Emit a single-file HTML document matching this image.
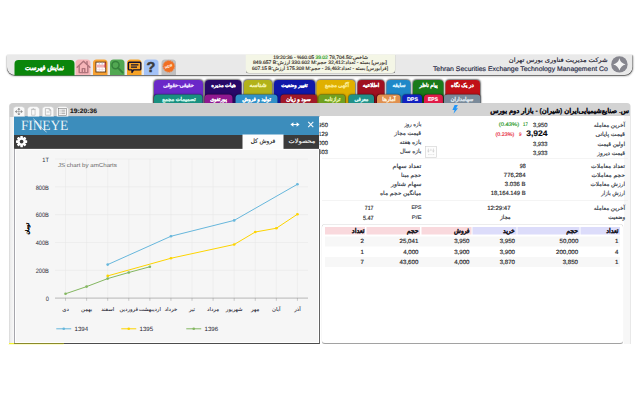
<!DOCTYPE html>
<html lang="fa"><head><meta charset="utf-8"><title>TSETMC</title>
<style>
html,body{margin:0;padding:0;background:#fff;width:640px;height:400px;overflow:hidden}
body{font-family:"Liberation Sans",sans-serif}
#w{position:absolute;left:0;top:0;width:1280px;height:800px;transform:scale(.5);transform-origin:0 0;overflow:hidden;background:#fff}
#w{text-rendering:geometricPrecision;-webkit-font-smoothing:antialiased}
#w div{position:absolute;box-sizing:border-box}
#w svg{position:absolute;overflow:visible}
.t{white-space:nowrap;direction:rtl;-webkit-text-stroke:.3px currentColor}
.t [dir=ltr]{unicode-bidi:isolate}
.t span{display:inline-block}
.tab{border-radius:8px 8px 0 0;box-shadow:0 0 3px 1px rgba(0,0,0,.55)}
.tab2{border-radius:7px 7px 0 0;box-shadow:0 0 3px 1px rgba(0,0,0,.5)}
.ic{border-radius:7px 7px 0 0}
</style></head><body><div id="w">
<div style="left:14px;top:110.4px;width:1251px;height:39.6px;background:#e9e9e9;border-radius:0 0 16px 16px;box-shadow:0 1px 1px rgba(0,0,0,.6),0 2px 4px rgba(0,0,0,.45),0 0 2px rgba(0,0,0,.35)"></div>
<div style="left:29.2px;top:120px;width:119.4px;height:31.2px;background:#0b860b;border-radius:8px 8px 0 0"></div>
<div class="t" id="btn" style="left:89px;margin-left:-300px;width:600px;text-align:center;top:135.4px;margin-top:-14.2px;height:28.4px;line-height:28.4px;font-size:14.2px;color:#fff;font-weight:bold;transform:scaleX(0.868);transform-origin:50% 50%;"><span>نمایش فهرست</span></div>
<div class="ic" style="left:151px;top:119px;width:30px;height:31.4px;background:#f7b5b9"></div>
<div class="ic" style="left:186px;top:119px;width:29px;height:31.4px;background:#f7a132"></div>
<div class="ic" style="left:220px;top:119px;width:29px;height:31.4px;background:#52a852"></div>
<div class="ic" style="left:254px;top:119px;width:29px;height:31.4px;background:#f8a325"></div>
<div class="ic" style="left:288px;top:119px;width:29px;height:31.4px;background:#a3c2f7"></div>
<div class="ic" style="left:322.5px;top:119px;width:29.5px;height:31.4px;background:#bfbfbf"></div>
<div style="left:490.5px;top:109px;width:300.7px;height:37.5px;background:#f4f6e6;border:1px solid #7d7d7d;border-top:0;border-radius:0 0 7px 7px"></div>
<svg style="left:1222px;top:112px" width="34px" height="34px" viewBox="0 0 17 17"><circle cx="8.4" cy="8.4" r="8.2" fill="#86868e"/><path d="M8.4 2.2 Q9.6 7.2 14.6 8.4 Q9.6 9.6 8.4 14.6 Q7.2 9.6 2.2 8.4 Q7.2 7.2 8.4 2.2Z" fill="#f4f4f4"/></svg>
<div class="tab" style="left:308px;top:159.5px;width:98.2px;height:46.5px;background:#6a28c8"></div>
<div class="tab" style="left:410px;top:159.5px;width:72.5px;height:46.5px;background:#280868"></div>
<div class="tab" style="left:487.5px;top:159.5px;width:56.5px;height:46.5px;background:#b2b21a"></div>
<div class="tab" style="left:548px;top:159.5px;width:82px;height:46.5px;background:#1018a8"></div>
<div class="tab" style="left:633px;top:159.5px;width:77.4px;height:46.5px;background:#e0b000"></div>
<div class="tab" style="left:714.5px;top:159.5px;width:54.5px;height:46.5px;background:#a01020"></div>
<div class="tab" style="left:773px;top:159.5px;width:48px;height:46.5px;background:#2088c8"></div>
<div class="tab" style="left:825.5px;top:159.5px;width:61.5px;height:46.5px;background:#1a7a1a"></div>
<div class="tab" style="left:890.5px;top:159.5px;width:69.5px;height:46.5px;background:#c01018"></div>
<div class="tab2" style="left:308px;top:189.2px;width:97px;height:17.2px;background:#189080"></div>
<div class="tab2" style="left:408.8px;top:189.2px;width:56.2px;height:17.2px;background:#901890"></div>
<div class="tab2" style="left:471px;top:189.2px;width:84px;height:17.2px;background:#3090c8"></div>
<div class="tab2" style="left:561px;top:189.2px;width:73px;height:17.2px;background:#a01828"></div>
<div class="tab2" style="left:637.2px;top:189.2px;width:52.8px;height:17.2px;background:#70a020"></div>
<div class="tab2" style="left:696.5px;top:189.2px;width:51px;height:17.2px;background:#209088"></div>
<div class="tab2" style="left:754px;top:189.2px;width:47px;height:17.2px;background:#e09050"></div>
<div class="tab2" style="left:805px;top:189.2px;width:39px;height:17.2px;background:#1020c0"></div>
<div class="tab2" style="left:847.5px;top:189.2px;width:38px;height:17.2px;background:#e01a48"></div>
<div class="tab2" style="left:888px;top:189.2px;width:73px;height:17.2px;background:#7a8a9a"></div>
<div style="left:640px;top:206.2px;width:621.2px;height:25.8px;background:#d3d3d3;border-radius:0 7px 0 0"></div>
<div style="left:640px;top:232px;width:621.2px;height:456px;background:#fff;border-right:1px solid #d0d0d0"></div>
<div style="left:1248px;top:232px;width:12.4px;height:456px;background:#f7f7f7"></div>
<div style="left:642.5px;top:447.5px;width:604.7px;height:240.5px;background:#fff;border:1px solid #c4c4c4;border-top-color:#d8d8d8;border-bottom:2px solid #a2a2a2;border-radius:7px"></div>
<div style="left:650px;top:454px;width:80px;height:15.2px;background:#f9d9dd"></div>
<div style="left:732.5px;top:454px;width:107.5px;height:15.2px;background:#f9d9dd"></div>
<div style="left:842.5px;top:454px;width:100px;height:15.2px;background:#f9d9dd"></div>
<div style="left:945px;top:454px;width:87.5px;height:15.2px;background:#dcdcfa"></div>
<div style="left:1035px;top:454px;width:123.5px;height:15.2px;background:#dcdcfa"></div>
<div style="left:1161px;top:454px;width:79px;height:15.2px;background:#dcdcfa"></div>
<div style="left:650px;top:472.8px;width:590px;height:20.2px;background:#f7f7f7"></div>
<div style="left:650px;top:514.2px;width:590px;height:20.2px;background:#f7f7f7"></div>
<div style="left:644px;top:316px;width:612px;height:1px;background:#e9e9e9"></div>
<div style="left:644px;top:400px;width:612px;height:1px;background:#e9e9e9"></div>
<div class="t" id="h_fa" style="right:65px;top:120.6px;margin-top:-12.5px;height:25px;line-height:25px;font-size:12.5px;color:#1c2030;transform:scaleX(1.072);transform-origin:100% 50%;"><span>شرکت مدیریت فناوری بورس تهران</span></div>
<div class="t" id="h_en" style="right:64px;top:137.2px;margin-top:-13.4px;height:26.8px;line-height:26.8px;font-size:13.4px;color:#1c2440;transform:scaleX(1.027);transform-origin:100% 50%;direction:ltr;"><span>Tehran Securities Exchange Technology Management Co</span></div>
<div class="t" id="ix1" style="left:641px;margin-left:-300px;width:600px;text-align:center;top:115.8px;margin-top:-10px;height:20px;line-height:20px;font-size:10px;color:#342c26;"><span>شاخص:<span dir="ltr">78,704.50</span> <b style="font-weight:normal;color:#1a9a1a"><span dir="ltr">39.02</span></b> <span dir="ltr">19:20:36 - %60.05</span></span></div>
<div class="t" id="ix2" style="left:640px;margin-left:-300px;width:600px;text-align:center;top:126.4px;margin-top:-10px;height:20px;line-height:20px;font-size:10px;color:#342c26;transform:scaleX(1.016);transform-origin:50% 50%;"><span>[بورس] بسته - تعداد:32,412 حجم:<span dir="ltr">330.602 M</span> ارزش:<span dir="ltr">849.657 B</span></span></div>
<div class="t" id="ix3" style="left:640px;margin-left:-300px;width:600px;text-align:center;top:137.2px;margin-top:-10px;height:20px;line-height:20px;font-size:10px;color:#342c26;transform:scaleX(0.981);transform-origin:50% 50%;"><span>[فرابورس] بسته - تعداد:26,463 - حجم:<span dir="ltr">175.308 M</span> ارزش:<span dir="ltr">607.15 B</span></span></div>
<div class="t" id="r1_0" style="left:357.4px;margin-left:-300px;width:600px;text-align:center;top:171px;margin-top:-11px;height:22px;line-height:22px;font-size:11px;color:#eadfff;font-weight:bold;transform:scaleX(0.918);transform-origin:50% 50%;"><span>حقیقی-حقوقی</span></div>
<div class="t" id="r1_1" style="left:446.75px;margin-left:-300px;width:600px;text-align:center;top:171px;margin-top:-11px;height:22px;line-height:22px;font-size:11px;color:#fff;font-weight:bold;transform:scaleX(0.926);transform-origin:50% 50%;"><span>هیات مدیره</span></div>
<div class="t" id="r1_2" style="left:516px;margin-left:-300px;width:600px;text-align:center;top:171px;margin-top:-11px;height:22px;line-height:22px;font-size:11px;color:#f4f4b4;font-weight:bold;transform:scaleX(1.083);transform-origin:50% 50%;"><span>شناسه</span></div>
<div class="t" id="r1_3" style="left:588.75px;margin-left:-300px;width:600px;text-align:center;top:171px;margin-top:-11px;height:22px;line-height:22px;font-size:11px;color:#fff;font-weight:bold;transform:scaleX(0.905);transform-origin:50% 50%;"><span>تغییر وضعیت</span></div>
<div class="t" id="r1_4" style="left:673.75px;margin-left:-300px;width:600px;text-align:center;top:171px;margin-top:-11px;height:22px;line-height:22px;font-size:11px;color:#fbea90;font-weight:bold;transform:scaleX(0.939);transform-origin:50% 50%;"><span>آگهی مجمع</span></div>
<div class="t" id="r1_5" style="left:741.5px;margin-left:-300px;width:600px;text-align:center;top:171px;margin-top:-11px;height:22px;line-height:22px;font-size:11px;color:#fff;font-weight:bold;transform:scaleX(0.972);transform-origin:50% 50%;"><span>اطلاعیه</span></div>
<div class="t" id="r1_6" style="left:797.75px;margin-left:-300px;width:600px;text-align:center;top:171px;margin-top:-11px;height:22px;line-height:22px;font-size:11px;color:#dcf2ff;font-weight:bold;transform:scaleX(0.965);transform-origin:50% 50%;"><span>سابقه</span></div>
<div class="t" id="r1_7" style="left:856.9px;margin-left:-300px;width:600px;text-align:center;top:171px;margin-top:-11px;height:22px;line-height:22px;font-size:11px;color:#fff;font-weight:bold;transform:scaleX(0.888);transform-origin:50% 50%;"><span>پیام ناظر</span></div>
<div class="t" id="r1_8" style="left:925px;margin-left:-300px;width:600px;text-align:center;top:171px;margin-top:-11px;height:22px;line-height:22px;font-size:11px;color:#fff;font-weight:bold;transform:scaleX(0.959);transform-origin:50% 50%;"><span>در یک نگاه</span></div>
<div class="t" id="r2_0" style="left:357.5px;margin-left:-300px;width:600px;text-align:center;top:199.8px;margin-top:-10.6px;height:21.2px;line-height:21.2px;font-size:10.6px;color:#c8f4e8;font-weight:bold;transform:scaleX(0.979);transform-origin:50% 50%;"><span>تصمیمات مجمع</span></div>
<div class="t" id="r2_1" style="left:436.75px;margin-left:-300px;width:600px;text-align:center;top:199.8px;margin-top:-10.6px;height:21.2px;line-height:21.2px;font-size:10.6px;color:#fff;font-weight:bold;transform:scaleX(0.929);transform-origin:50% 50%;"><span>پورتفوی</span></div>
<div class="t" id="r2_2" style="left:513.25px;margin-left:-300px;width:600px;text-align:center;top:199.8px;margin-top:-10.6px;height:21.2px;line-height:21.2px;font-size:10.6px;color:#fff;font-weight:bold;transform:scaleX(0.948);transform-origin:50% 50%;"><span>تولید و فروش</span></div>
<div class="t" id="r2_3" style="left:597.25px;margin-left:-300px;width:600px;text-align:center;top:199.8px;margin-top:-10.6px;height:21.2px;line-height:21.2px;font-size:10.6px;color:#fff;font-weight:bold;transform:scaleX(0.990);transform-origin:50% 50%;"><span>سود و زیان</span></div>
<div class="t" id="r2_4" style="left:665px;margin-left:-300px;width:600px;text-align:center;top:199.8px;margin-top:-10.6px;height:21.2px;line-height:21.2px;font-size:10.6px;color:#e4f2a8;font-weight:bold;transform:scaleX(0.921);transform-origin:50% 50%;"><span>ترازنامه</span></div>
<div class="t" id="r2_5" style="left:723.25px;margin-left:-300px;width:600px;text-align:center;top:199.8px;margin-top:-10.6px;height:21.2px;line-height:21.2px;font-size:10.6px;color:#d0f4f0;font-weight:bold;transform:scaleX(0.910);transform-origin:50% 50%;"><span>معرفی</span></div>
<div class="t" id="r2_6" style="left:777.75px;margin-left:-300px;width:600px;text-align:center;top:199.8px;margin-top:-10.6px;height:21.2px;line-height:21.2px;font-size:10.6px;color:#fff0dc;font-weight:bold;transform:scaleX(1.029);transform-origin:50% 50%;"><span>آمارها</span></div>
<div class="t" id="r2_7" style="left:825px;margin-left:-300px;width:600px;text-align:center;top:199.8px;margin-top:-10.6px;height:21.2px;line-height:21.2px;font-size:10.6px;color:#fff;font-weight:bold;"><span>DPS</span></div>
<div class="t" id="r2_8" style="left:866px;margin-left:-300px;width:600px;text-align:center;top:199.8px;margin-top:-10.6px;height:21.2px;line-height:21.2px;font-size:10.6px;color:#fff;font-weight:bold;transform:scaleX(0.943);transform-origin:50% 50%;"><span>EPS</span></div>
<div class="t" id="r2_9" style="left:924.35px;margin-left:-300px;width:600px;text-align:center;top:199.8px;margin-top:-10.6px;height:21.2px;line-height:21.2px;font-size:10.6px;color:#dce4ec;font-weight:bold;transform:scaleX(0.951);transform-origin:50% 50%;"><span>سهامداران</span></div>
<div class="t" id="title" style="right:22px;top:221.2px;margin-top:-13.5px;height:27px;line-height:27px;font-size:13.5px;color:#0c0c14;font-weight:bold;"><span>س. صنایع‌شیمیایی‌ایران (شیران) - بازار دوم بورس</span></div>
<svg style="left:904.4px;top:209.6px" width="12.4px" height="17.6px" viewBox="0 0 6.2 8.8"><path d="M2.6 0H5.9L4.1 3.3H6L1.5 8.8L2.6 4.9H0.4Z" fill="#2196f8"/></svg>
<div class="t" id="rl0" style="right:30px;top:250.8px;margin-top:-11.4px;height:22.8px;line-height:22.8px;font-size:11.4px;color:#2e3440;"><span>آخرین معامله</span></div>
<div class="t" id="rl1" style="right:30px;top:269.8px;margin-top:-11.4px;height:22.8px;line-height:22.8px;font-size:11.4px;color:#2e3440;transform:scaleX(1.058);transform-origin:100% 50%;"><span>قیمت پایانی</span></div>
<div class="t" id="rl2" style="right:30px;top:288.4px;margin-top:-11.4px;height:22.8px;line-height:22.8px;font-size:11.4px;color:#2e3440;transform:scaleX(1.017);transform-origin:100% 50%;"><span>اولین قیمت</span></div>
<div class="t" id="rl3" style="right:30px;top:306.6px;margin-top:-11.4px;height:22.8px;line-height:22.8px;font-size:11.4px;color:#2e3440;"><span>قیمت دیروز</span></div>
<div class="t" id="rl4" style="right:30px;top:332.2px;margin-top:-11.4px;height:22.8px;line-height:22.8px;font-size:11.4px;color:#2e3440;transform:scaleX(1.043);transform-origin:100% 50%;"><span>تعداد معاملات</span></div>
<div class="t" id="rl5" style="right:30px;top:350.2px;margin-top:-11.4px;height:22.8px;line-height:22.8px;font-size:11.4px;color:#2e3440;transform:scaleX(1.050);transform-origin:100% 50%;"><span>حجم معاملات</span></div>
<div class="t" id="rl6" style="right:30px;top:368.2px;margin-top:-11.4px;height:22.8px;line-height:22.8px;font-size:11.4px;color:#2e3440;transform:scaleX(0.987);transform-origin:100% 50%;"><span>ارزش معاملات</span></div>
<div class="t" id="rl7" style="right:30px;top:386.4px;margin-top:-11.4px;height:22.8px;line-height:22.8px;font-size:11.4px;color:#2e3440;transform:scaleX(0.913);transform-origin:100% 50%;"><span>ارزش بازار</span></div>
<div class="t" id="rl8" style="right:30px;top:416px;margin-top:-11.4px;height:22.8px;line-height:22.8px;font-size:11.4px;color:#2e3440;"><span>آخرین معامله</span></div>
<div class="t" id="rl9" style="right:30px;top:434.8px;margin-top:-11.4px;height:22.8px;line-height:22.8px;font-size:11.4px;color:#2e3440;transform:scaleX(0.963);transform-origin:100% 50%;"><span>وضعیت</span></div>
<div class="t" id="ll0" style="right:437.5px;top:249.8px;margin-top:-11.4px;height:22.8px;line-height:22.8px;font-size:11.4px;color:#2e3440;transform:scaleX(0.900);transform-origin:100% 50%;"><span>بازه روز</span></div>
<div class="t" id="ll1" style="right:437.5px;top:267.8px;margin-top:-11.4px;height:22.8px;line-height:22.8px;font-size:11.4px;color:#2e3440;transform:scaleX(1.024);transform-origin:100% 50%;"><span>قیمت مجاز</span></div>
<div class="t" id="ll2" style="right:437.5px;top:285.8px;margin-top:-11.4px;height:22.8px;line-height:22.8px;font-size:11.4px;color:#2e3440;transform:scaleX(1.021);transform-origin:100% 50%;"><span>بازه هفته</span></div>
<div class="t" id="ll3" style="right:437.5px;top:303.8px;margin-top:-11.4px;height:22.8px;line-height:22.8px;font-size:11.4px;color:#2e3440;"><span>بازه سال</span></div>
<div class="t" id="ll4" style="right:437.5px;top:332.2px;margin-top:-11.4px;height:22.8px;line-height:22.8px;font-size:11.4px;color:#2e3440;transform:scaleX(1.119);transform-origin:100% 50%;"><span>تعداد سهام</span></div>
<div class="t" id="ll5" style="right:437.5px;top:350.2px;margin-top:-11.4px;height:22.8px;line-height:22.8px;font-size:11.4px;color:#2e3440;transform:scaleX(0.974);transform-origin:100% 50%;"><span>حجم مبنا</span></div>
<div class="t" id="ll6" style="right:437.5px;top:368.2px;margin-top:-11.4px;height:22.8px;line-height:22.8px;font-size:11.4px;color:#2e3440;transform:scaleX(1.091);transform-origin:100% 50%;"><span>سهام شناور</span></div>
<div class="t" id="ll7" style="right:437.5px;top:386.4px;margin-top:-11.4px;height:22.8px;line-height:22.8px;font-size:11.4px;color:#2e3440;transform:scaleX(1.052);transform-origin:100% 50%;"><span>میانگین حجم ماه</span></div>
<div class="t" id="ll8" style="right:437.5px;top:416.2px;margin-top:-10.4px;height:20.8px;line-height:20.8px;font-size:10.4px;color:#2e3440;transform:scaleX(0.962);transform-origin:100% 50%;direction:ltr;"><span>EPS</span></div>
<div class="t" id="ll9" style="right:437.5px;top:436.4px;margin-top:-10.4px;height:20.8px;line-height:20.8px;font-size:10.4px;color:#2e3440;transform:scaleX(1.152);transform-origin:100% 50%;direction:ltr;"><span>P/E</span></div>
<div class="t" id="v0" style="right:185px;top:250px;margin-top:-12px;height:24px;line-height:24px;font-size:12px;color:#1e1e26;transform:scaleX(0.966);transform-origin:100% 50%;direction:ltr;"><span>3,950</span></div>
<div class="t" id="v0b" style="right:224px;top:250px;margin-top:-10.4px;height:20.8px;line-height:20.8px;font-size:10.4px;color:#2a9a2a;transform:scaleX(0.822);transform-origin:100% 50%;direction:ltr;"><span>17</span></div>
<div class="t" id="v0c" style="right:241.5px;top:250px;margin-top:-10.4px;height:20.8px;line-height:20.8px;font-size:10.4px;color:#2a9a2a;transform:scaleX(1.127);transform-origin:100% 50%;direction:ltr;"><span>(0.43%)</span></div>
<div class="t" id="v1" style="right:185px;top:267px;margin-top:-16px;height:32px;line-height:32px;font-size:16px;color:#0a0a10;font-weight:bold;transform:scaleX(1.061);transform-origin:100% 50%;direction:ltr;"><span>3,924</span></div>
<div class="t" id="v1b" style="right:237.5px;top:269px;margin-top:-10.4px;height:20.8px;line-height:20.8px;font-size:10.4px;color:#e8283c;transform:scaleX(0.865);transform-origin:100% 50%;direction:ltr;"><span>9</span></div>
<div class="t" id="v1c" style="right:251.5px;top:269px;margin-top:-10.4px;height:20.8px;line-height:20.8px;font-size:10.4px;color:#e8283c;transform:scaleX(1.030);transform-origin:100% 50%;direction:ltr;"><span>(0.23%)</span></div>
<div class="t" id="v2" style="right:185px;top:287.6px;margin-top:-12px;height:24px;line-height:24px;font-size:12px;color:#1e1e26;transform:scaleX(0.966);transform-origin:100% 50%;direction:ltr;"><span>3,933</span></div>
<div class="t" id="v3" style="right:185px;top:305.8px;margin-top:-12px;height:24px;line-height:24px;font-size:12px;color:#1e1e26;transform:scaleX(0.966);transform-origin:100% 50%;direction:ltr;"><span>3,933</span></div>
<div class="t" id="v4" style="right:229px;top:331.4px;margin-top:-12px;height:24px;line-height:24px;font-size:12px;color:#1e1e26;transform:scaleX(0.898);transform-origin:100% 50%;direction:ltr;"><span>98</span></div>
<div class="t" id="v5" style="right:229px;top:349.4px;margin-top:-12px;height:24px;line-height:24px;font-size:12px;color:#1e1e26;direction:ltr;"><span>776,284</span></div>
<div class="t" id="v6" style="right:229px;top:367.4px;margin-top:-12px;height:24px;line-height:24px;font-size:12px;color:#1e1e26;direction:ltr;"><span>3.036 B</span></div>
<div class="t" id="v7" style="right:229px;top:385.6px;margin-top:-12px;height:24px;line-height:24px;font-size:12px;color:#1e1e26;transform:scaleX(0.980);transform-origin:100% 50%;direction:ltr;"><span>18,164.149 B</span></div>
<div class="t" id="v8" style="right:259px;top:415.2px;margin-top:-12px;height:24px;line-height:24px;font-size:12px;color:#1e1e26;direction:ltr;"><span>12:29:47</span></div>
<div class="t" id="v9" style="right:259px;top:434.8px;margin-top:-11.4px;height:22.8px;line-height:22.8px;font-size:11.4px;color:#1e1e26;transform:scaleX(0.936);transform-origin:100% 50%;"><span>مجاز</span></div>
<div class="t" id="e0" style="right:532.5px;top:416.2px;margin-top:-12px;height:24px;line-height:24px;font-size:12px;color:#1e1e26;transform:scaleX(0.874);transform-origin:100% 50%;direction:ltr;"><span>717</span></div>
<div class="t" id="e1" style="right:532.5px;top:436.4px;margin-top:-12px;height:24px;line-height:24px;font-size:12px;color:#1e1e26;transform:scaleX(0.920);transform-origin:100% 50%;direction:ltr;"><span>5.47</span></div>
<div class="t" id="lv0" style="right:624px;top:249px;margin-top:-12px;height:24px;line-height:24px;font-size:12px;color:#1e1e26;transform:scaleX(0.966);transform-origin:100% 50%;direction:ltr;"><span>3,950</span></div>
<div class="t" id="lv1" style="right:624px;top:267px;margin-top:-12px;height:24px;line-height:24px;font-size:12px;color:#1e1e26;transform:scaleX(0.966);transform-origin:100% 50%;direction:ltr;"><span>4,129</span></div>
<div class="t" id="lv2" style="right:624px;top:285px;margin-top:-12px;height:24px;line-height:24px;font-size:12px;color:#1e1e26;transform:scaleX(0.966);transform-origin:100% 50%;direction:ltr;"><span>4,000</span></div>
<div class="t" id="lv3" style="right:624px;top:303px;margin-top:-12px;height:24px;line-height:24px;font-size:12px;color:#1e1e26;transform:scaleX(0.966);transform-origin:100% 50%;direction:ltr;"><span>5,503</span></div>
<div class="t" id="oh0" style="right:551px;top:461.6px;margin-top:-13.5px;height:27px;line-height:27px;font-size:13.5px;color:#16161e;font-weight:bold;transform:scaleX(0.936);transform-origin:100% 50%;"><span>تعداد</span></div>
<div class="t" id="oh1" style="right:443.2px;top:461.6px;margin-top:-13.5px;height:27px;line-height:27px;font-size:13.5px;color:#16161e;font-weight:bold;transform:scaleX(0.912);transform-origin:100% 50%;"><span>حجم</span></div>
<div class="t" id="oh2" style="right:341px;top:461.6px;margin-top:-13.5px;height:27px;line-height:27px;font-size:13.5px;color:#16161e;font-weight:bold;transform:scaleX(0.836);transform-origin:100% 50%;"><span>فروش</span></div>
<div class="t" id="oh3" style="right:250px;top:461.6px;margin-top:-13.5px;height:27px;line-height:27px;font-size:13.5px;color:#16161e;font-weight:bold;transform:scaleX(0.887);transform-origin:100% 50%;"><span>خرید</span></div>
<div class="t" id="oh4" style="right:124px;top:461.6px;margin-top:-13.5px;height:27px;line-height:27px;font-size:13.5px;color:#16161e;font-weight:bold;transform:scaleX(0.912);transform-origin:100% 50%;"><span>حجم</span></div>
<div class="t" id="oh5" style="right:42.5px;top:461.6px;margin-top:-13.5px;height:27px;line-height:27px;font-size:13.5px;color:#16161e;font-weight:bold;transform:scaleX(0.911);transform-origin:100% 50%;"><span>تعداد</span></div>
<div class="t" id="o00" style="right:552.2px;top:482px;margin-top:-12px;height:24px;line-height:24px;font-size:12px;color:#1e1e26;transform:scaleX(1.017);transform-origin:100% 50%;direction:ltr;"><span>2</span></div>
<div class="t" id="o01" style="right:443.2px;top:482px;margin-top:-12px;height:24px;line-height:24px;font-size:12px;color:#1e1e26;transform:scaleX(1.022);transform-origin:100% 50%;direction:ltr;"><span>25,041</span></div>
<div class="t" id="o02" style="right:340.8px;top:482px;margin-top:-12px;height:24px;line-height:24px;font-size:12px;color:#1e1e26;transform:scaleX(1.022);transform-origin:100% 50%;direction:ltr;"><span>3,950</span></div>
<div class="t" id="o03" style="right:249.8px;top:482px;margin-top:-12px;height:24px;line-height:24px;font-size:12px;color:#1e1e26;transform:scaleX(1.022);transform-origin:100% 50%;direction:ltr;"><span>3,950</span></div>
<div class="t" id="o04" style="right:123.8px;top:482px;margin-top:-12px;height:24px;line-height:24px;font-size:12px;color:#1e1e26;transform:scaleX(1.022);transform-origin:100% 50%;direction:ltr;"><span>50,000</span></div>
<div class="t" id="o05" style="right:43.2px;top:482px;margin-top:-12px;height:24px;line-height:24px;font-size:12px;color:#1e1e26;transform:scaleX(1.017);transform-origin:100% 50%;direction:ltr;"><span>1</span></div>
<div class="t" id="o10" style="right:552.2px;top:503px;margin-top:-12px;height:24px;line-height:24px;font-size:12px;color:#1e1e26;transform:scaleX(1.017);transform-origin:100% 50%;direction:ltr;"><span>1</span></div>
<div class="t" id="o11" style="right:443.2px;top:503px;margin-top:-12px;height:24px;line-height:24px;font-size:12px;color:#1e1e26;transform:scaleX(1.022);transform-origin:100% 50%;direction:ltr;"><span>4,000</span></div>
<div class="t" id="o12" style="right:340.8px;top:503px;margin-top:-12px;height:24px;line-height:24px;font-size:12px;color:#1e1e26;transform:scaleX(1.022);transform-origin:100% 50%;direction:ltr;"><span>3,900</span></div>
<div class="t" id="o13" style="right:249.8px;top:503px;margin-top:-12px;height:24px;line-height:24px;font-size:12px;color:#1e1e26;transform:scaleX(1.022);transform-origin:100% 50%;direction:ltr;"><span>3,900</span></div>
<div class="t" id="o14" style="right:123.8px;top:503px;margin-top:-12px;height:24px;line-height:24px;font-size:12px;color:#1e1e26;transform:scaleX(1.021);transform-origin:100% 50%;direction:ltr;"><span>200,000</span></div>
<div class="t" id="o15" style="right:43.2px;top:503px;margin-top:-12px;height:24px;line-height:24px;font-size:12px;color:#1e1e26;transform:scaleX(1.017);transform-origin:100% 50%;direction:ltr;"><span>4</span></div>
<div class="t" id="o20" style="right:552.2px;top:523.6px;margin-top:-12px;height:24px;line-height:24px;font-size:12px;color:#1e1e26;transform:scaleX(1.017);transform-origin:100% 50%;direction:ltr;"><span>7</span></div>
<div class="t" id="o21" style="right:443.2px;top:523.6px;margin-top:-12px;height:24px;line-height:24px;font-size:12px;color:#1e1e26;transform:scaleX(1.022);transform-origin:100% 50%;direction:ltr;"><span>43,600</span></div>
<div class="t" id="o22" style="right:340.8px;top:523.6px;margin-top:-12px;height:24px;line-height:24px;font-size:12px;color:#1e1e26;transform:scaleX(1.022);transform-origin:100% 50%;direction:ltr;"><span>4,000</span></div>
<div class="t" id="o23" style="right:249.8px;top:523.6px;margin-top:-12px;height:24px;line-height:24px;font-size:12px;color:#1e1e26;transform:scaleX(1.022);transform-origin:100% 50%;direction:ltr;"><span>3,870</span></div>
<div class="t" id="o24" style="right:123.8px;top:523.6px;margin-top:-12px;height:24px;line-height:24px;font-size:12px;color:#1e1e26;transform:scaleX(1.022);transform-origin:100% 50%;direction:ltr;"><span>3,850</span></div>
<div class="t" id="o25" style="right:43.2px;top:523.6px;margin-top:-12px;height:24px;line-height:24px;font-size:12px;color:#1e1e26;transform:scaleX(1.017);transform-origin:100% 50%;direction:ltr;"><span>1</span></div>
<!-- floating chart panel -->
<div style="left:18px;top:206.2px;width:620.8px;height:481.8px;background:linear-gradient(to right,#cfcfcf 0,#ececec 2px,#f7f7f7 9px);border-radius:7px 0 0 0"></div>
<div style="left:18.8px;top:206.2px;width:621.6px;height:27.4px;background:#cdcdcd;border-radius:7px 0 0 0"></div>
<div style="left:28px;top:233.4px;width:610.2px;height:36.6px;background:#3c8dbc;border-top:1px solid #2f7fb6"></div>
<div style="left:28px;top:270px;width:610.2px;height:27.2px;background:#3b3b3b;border-bottom:1.4px solid #141414"></div>
<div style="left:484.8px;top:268.8px;width:82.7px;height:29.6px;background:#fdfdfd"></div>
<div style="left:28px;top:297.5px;width:612px;height:390.5px;background:#f6f6f6;border-left:2px solid #a6a6ac;border-right:2px solid #646464;border-bottom:2px solid #4c4c4c;box-shadow:inset 0 0 0 2px #fff"></div>
<svg style="left:0;top:0" width="1280" height="800" viewBox="0 0 640 400" font-family="Liberation Sans, sans-serif"><path d="M55.0 159.00H308" stroke="#e4e4e4" stroke-width=".5" fill="none"/><path d="M55.0 186.82H308" stroke="#e4e4e4" stroke-width=".5" fill="none"/><path d="M55.0 214.64H308" stroke="#e4e4e4" stroke-width=".5" fill="none"/><path d="M55.0 242.46H308" stroke="#e4e4e4" stroke-width=".5" fill="none"/><path d="M55.0 270.28H308" stroke="#e4e4e4" stroke-width=".5" fill="none"/><path d="M65.54 159V298.1" stroke="#e6e6e6" stroke-width=".5" fill="none"/><path d="M65.54 298.1V300.8" stroke="#999" stroke-width=".5" fill="none"/><path d="M86.62 159V298.1" stroke="#e6e6e6" stroke-width=".5" fill="none"/><path d="M86.62 298.1V300.8" stroke="#999" stroke-width=".5" fill="none"/><path d="M107.70 159V298.1" stroke="#e6e6e6" stroke-width=".5" fill="none"/><path d="M107.70 298.1V300.8" stroke="#999" stroke-width=".5" fill="none"/><path d="M128.78 159V298.1" stroke="#e6e6e6" stroke-width=".5" fill="none"/><path d="M128.78 298.1V300.8" stroke="#999" stroke-width=".5" fill="none"/><path d="M149.86 159V298.1" stroke="#e6e6e6" stroke-width=".5" fill="none"/><path d="M149.86 298.1V300.8" stroke="#999" stroke-width=".5" fill="none"/><path d="M170.94 159V298.1" stroke="#e6e6e6" stroke-width=".5" fill="none"/><path d="M170.94 298.1V300.8" stroke="#999" stroke-width=".5" fill="none"/><path d="M192.02 159V298.1" stroke="#e6e6e6" stroke-width=".5" fill="none"/><path d="M192.02 298.1V300.8" stroke="#999" stroke-width=".5" fill="none"/><path d="M213.10 159V298.1" stroke="#e6e6e6" stroke-width=".5" fill="none"/><path d="M213.10 298.1V300.8" stroke="#999" stroke-width=".5" fill="none"/><path d="M234.18 159V298.1" stroke="#e6e6e6" stroke-width=".5" fill="none"/><path d="M234.18 298.1V300.8" stroke="#999" stroke-width=".5" fill="none"/><path d="M255.26 159V298.1" stroke="#e6e6e6" stroke-width=".5" fill="none"/><path d="M255.26 298.1V300.8" stroke="#999" stroke-width=".5" fill="none"/><path d="M276.34 159V298.1" stroke="#e6e6e6" stroke-width=".5" fill="none"/><path d="M276.34 298.1V300.8" stroke="#999" stroke-width=".5" fill="none"/><path d="M297.42 159V298.1" stroke="#e6e6e6" stroke-width=".5" fill="none"/><path d="M297.42 298.1V300.8" stroke="#999" stroke-width=".5" fill="none"/><path d="M55.0 298.1H308" stroke="#8c8c8c" stroke-width=".6" fill="none"/><text transform="translate(48.9,161.75) scale(.9,1)" font-size="6.3" fill="#2c2c38" text-anchor="end">1T</text><text transform="translate(48.9,189.57) scale(.9,1)" font-size="6.3" fill="#2c2c38" text-anchor="end">800B</text><text transform="translate(48.9,217.39) scale(.9,1)" font-size="6.3" fill="#2c2c38" text-anchor="end">600B</text><text transform="translate(48.9,245.21) scale(.9,1)" font-size="6.3" fill="#2c2c38" text-anchor="end">400B</text><text transform="translate(48.9,273.03) scale(.9,1)" font-size="6.3" fill="#2c2c38" text-anchor="end">200B</text><text transform="translate(48.9,300.85) scale(.9,1)" font-size="6.3" fill="#2c2c38" text-anchor="end">0</text><text x="57.9" y="167.4" font-size="5.8" fill="#666" textLength="59" lengthAdjust="spacingAndGlyphs">JS chart by amCharts</text><text x="65.54" y="311.2" font-size="5.35" fill="#1a1a30" stroke="#1a1a30" stroke-width=".06" text-anchor="middle" direction="rtl">دی</text><text x="86.62" y="311.2" font-size="5.35" fill="#1a1a30" stroke="#1a1a30" stroke-width=".06" text-anchor="middle" direction="rtl">بهمن</text><text x="107.70" y="311.2" font-size="5.35" fill="#1a1a30" stroke="#1a1a30" stroke-width=".06" text-anchor="middle" direction="rtl">اسفند</text><text x="128.78" y="311.2" font-size="5.35" fill="#1a1a30" stroke="#1a1a30" stroke-width=".06" text-anchor="middle" direction="rtl">فروردین</text><text x="149.86" y="311.2" font-size="5.35" fill="#1a1a30" stroke="#1a1a30" stroke-width=".06" text-anchor="middle" direction="rtl">اردیبهشت</text><text x="170.94" y="311.2" font-size="5.35" fill="#1a1a30" stroke="#1a1a30" stroke-width=".06" text-anchor="middle" direction="rtl">خرداد</text><text x="192.02" y="311.2" font-size="5.35" fill="#1a1a30" stroke="#1a1a30" stroke-width=".06" text-anchor="middle" direction="rtl">تیر</text><text x="213.10" y="311.2" font-size="5.35" fill="#1a1a30" stroke="#1a1a30" stroke-width=".06" text-anchor="middle" direction="rtl">مرداد</text><text x="234.18" y="311.2" font-size="5.35" fill="#1a1a30" stroke="#1a1a30" stroke-width=".06" text-anchor="middle" direction="rtl">شهریور</text><text x="255.26" y="311.2" font-size="5.35" fill="#1a1a30" stroke="#1a1a30" stroke-width=".06" text-anchor="middle" direction="rtl">مهر</text><text x="276.34" y="311.2" font-size="5.35" fill="#1a1a30" stroke="#1a1a30" stroke-width=".06" text-anchor="middle" direction="rtl">آبان</text><text x="297.42" y="311.2" font-size="5.35" fill="#1a1a30" stroke="#1a1a30" stroke-width=".06" text-anchor="middle" direction="rtl">آذر</text><text transform="translate(29.3,228.8) rotate(-90)" font-size="4.9" font-weight="bold" fill="#0a0a0a" stroke="#0a0a0a" stroke-width=".2" text-anchor="middle" direction="rtl">تومان</text><path d="M107.70 264.60 L170.94 236.25 L234.18 220.40 L297.42 184.25" stroke="#67b7dc" stroke-width="1" fill="none" stroke-linejoin="round"/><circle cx="107.70" cy="264.60" r="1.35" fill="#67b7dc"/><circle cx="170.94" cy="236.25" r="1.35" fill="#67b7dc"/><circle cx="234.18" cy="220.40" r="1.35" fill="#67b7dc"/><circle cx="297.42" cy="184.25" r="1.35" fill="#67b7dc"/><path d="M107.70 275.90 L170.94 258.25 L234.18 244.50 L255.26 232.00 L276.34 228.25 L297.42 214.25" stroke="#fdd400" stroke-width="1" fill="none" stroke-linejoin="round"/><circle cx="107.70" cy="275.90" r="1.35" fill="#fdd400"/><circle cx="170.94" cy="258.25" r="1.35" fill="#fdd400"/><circle cx="234.18" cy="244.50" r="1.35" fill="#fdd400"/><circle cx="255.26" cy="232.00" r="1.35" fill="#fdd400"/><circle cx="276.34" cy="228.25" r="1.35" fill="#fdd400"/><circle cx="297.42" cy="214.25" r="1.35" fill="#fdd400"/><path d="M65.54 293.75 L86.62 286.60 L107.70 278.60 L128.78 272.50 L149.86 266.75" stroke="#84b761" stroke-width="1" fill="none" stroke-linejoin="round"/><circle cx="65.54" cy="293.75" r="1.35" fill="#84b761"/><circle cx="86.62" cy="286.60" r="1.35" fill="#84b761"/><circle cx="107.70" cy="278.60" r="1.35" fill="#84b761"/><circle cx="128.78" cy="272.50" r="1.35" fill="#84b761"/><circle cx="149.86" cy="266.75" r="1.35" fill="#84b761"/><path d="M56.25 328.8H71.25" stroke="#67b7dc" stroke-width="1"/><circle cx="63.75" cy="328.8" r="1.3" fill="#67b7dc"/><text x="74.55" y="331.1" font-size="6.1" fill="#20202c">1394</text><path d="M121.25 328.8H136.25" stroke="#fdd400" stroke-width="1"/><circle cx="128.75" cy="328.8" r="1.3" fill="#fdd400"/><text x="139.55" y="331.1" font-size="6.1" fill="#20202c">1395</text><path d="M186.25 328.8H201.25" stroke="#84b761" stroke-width="1"/><circle cx="193.75" cy="328.8" r="1.3" fill="#84b761"/><text x="204.55" y="331.1" font-size="6.1" fill="#20202c">1396</text></svg>
<div style="left:16.8px;top:688px;width:110.7px;height:2px;background:#fcfccc"></div>
<div style="left:18px;top:686px;width:10px;height:2px;background:#f4f430"></div>
<div style="left:28px;top:686px;width:99.5px;height:2px;background:#8a8a2a"></div>
<div style="left:42.2px;top:234px;height:34px;line-height:34px;font-family:'Liberation Serif',serif;font-size:28.6px;color:rgba(255,255,255,.92);letter-spacing:-.4px;white-space:nowrap;transform:scaleX(.95);transform-origin:0 50%">FINEYE</div>
<svg style="left:0;top:0" width="1280" height="800" viewBox="0 0 640 400"><path d="M33.6 118.9Q36.5 121.2 40.2 126Q43.4 130.2 46.3 131.9" fill="none" stroke="#fff" stroke-width=".65" stroke-linecap="round" opacity=".9"/></svg>
<svg style="left:32px;top:271.8px" width="22.4px" height="22.4px" viewBox="-10 -10 20 20"><g fill="#fff"><rect x="-2.3" y="-10" width="4.6" height="20" rx="1" transform="rotate(0)"/><rect x="-2.3" y="-10" width="4.6" height="20" rx="1" transform="rotate(45)"/><rect x="-2.3" y="-10" width="4.6" height="20" rx="1" transform="rotate(90)"/><rect x="-2.3" y="-10" width="4.6" height="20" rx="1" transform="rotate(135)"/><circle r="7.2"/></g><circle r="3.3" fill="#3b3b3b"/></svg>
<div class="t" id="ptab1" style="left:525.5px;margin-left:-300px;width:600px;text-align:center;top:282.6px;margin-top:-12.4px;height:24.8px;line-height:24.8px;font-size:12.4px;color:#1c1c1c;transform:scaleX(0.932);transform-origin:50% 50%;"><span>فروش کل</span></div>
<div class="t" id="ptab2" style="left:604.25px;margin-left:-300px;width:600px;text-align:center;top:282.6px;margin-top:-12.4px;height:24.8px;line-height:24.8px;font-size:12.4px;color:#f4f4f4;transform:scaleX(1.059);transform-origin:50% 50%;"><span>محصولات</span></div>
<svg style="left:580px;top:241px" width="50px" height="16px" viewBox="290 120.5 25 8"><g stroke="#f4f8fc" fill="none" stroke-width="1"><path d="M292 124.5H298"/><path d="M308.2 121.9L313.3 127.1M313.3 121.9L308.2 127.1" stroke-width="1.1"/></g><path d="M290.4 124.5L293.4 122.2V126.8ZM299.6 124.5L296.6 122.2V126.8Z" fill="#fff"/></svg>
<div style="left:26px;top:213px;width:23.6px;height:20.4px;background:#f9f9f9;border:1px solid #d2d2d2;border-bottom:0;border-radius:6px 6px 0 0"></div>
<div style="left:55px;top:213px;width:23.6px;height:20.4px;background:#f9f9f9;border:1px solid #d2d2d2;border-bottom:0;border-radius:6px 6px 0 0"></div>
<div style="left:84.2px;top:213px;width:23.6px;height:20.4px;background:#f9f9f9;border:1px solid #d2d2d2;border-bottom:0;border-radius:6px 6px 0 0"></div>
<div style="left:113.4px;top:213px;width:23.6px;height:20.4px;background:#f9f9f9;border:1px solid #d2d2d2;border-bottom:0;border-radius:6px 6px 0 0"></div>
<div class="t" id="clock" style="left:140px;top:221.2px;margin-top:-13px;height:26px;line-height:26px;font-size:13px;color:#1c1c1c;font-weight:bold;transform:scaleX(1.038);transform-origin:0 50%;direction:ltr;"><span>19:20:36</span></div>
<svg style="left:0;top:0" width="1280" height="800" viewBox="0 0 640 400" font-family="Liberation Sans, sans-serif"><g fill="none" stroke="#b0747c" stroke-width="1.45" stroke-linejoin="round" stroke-linecap="round"><path d="M77.2 67.2L83.5 61.2L89.8 67.2"/><path d="M79.2 66.2V72.6H87.8V66.2"/><path d="M82.3 72.4V68.6H84.8V72.4"/><path d="M87 64.2V61.6"/></g><rect x="95.9" y="62.1" width="9.8" height="9.9" fill="#fff" stroke="#5a3614" stroke-width=".9"/><rect x="96.3" y="64.6" width="9" height="2.9" fill="#f3aeb0"/><rect x="104.6" y="62.4" width="1" height="5.2" fill="#c8202c"/><path d="M99.3 62.4V71.8M102.2 62.4V71.8M96.3 69.6H105.4" stroke="#f0c4c8" stroke-width=".45"/><path d="M99.3 62.4V64.5M102.2 62.4V64.5" stroke="#8aa0d8" stroke-width=".45"/><circle cx="115.5" cy="65.1" r="3.6" fill="none" stroke="#35823b" stroke-width="1.5"/><path d="M118.1 67.8L122.7 72.6" stroke="#35823b" stroke-width="1.9" stroke-linecap="round"/><path d="M129.4 62.2H139.8Q140.8 62.2 140.8 63.2V68.9Q140.8 69.9 139.8 69.9H133.6L132 72.4V69.9H129.4Q128.4 69.9 128.4 68.9V63.2Q128.4 62.2 129.4 62.2Z" fill="none" stroke="#101030" stroke-width="1.4" stroke-linejoin="round"/><path d="M131 64.8H138.4M131 67.1H137" stroke="#101030" stroke-width="1.3"/><text x="151" y="72.3" font-size="14.4" font-weight="bold" fill="#3c3c3c" text-anchor="middle" stroke="#3c3c3c" stroke-width=".5">?</text><circle cx="168.8" cy="66.3" r="5.6" fill="#f26f21"/><circle cx="168.8" cy="66.3" r="5.9" fill="none" stroke="#f26f21" stroke-width=".7" stroke-dasharray="1.2 .7"/><text transform="translate(169,67.5) rotate(-24)" font-size="3.4" font-weight="bold" fill="#fff" text-anchor="middle">NEW</text><g fill="none" stroke="#8d8d8d" stroke-width=".6"><path d="M15.3 111.6H22.4M18.85 108.2V115"/><path d="M15.3 111.6l1.3-1.1v2.2zM22.4 111.6l-1.3-1.1v2.2zM18.85 108.2l-1.1 1.2h2.2zM18.85 115l-1.1-1.2h2.2z" fill="#8d8d8d"/><path d="M31.6 109.6H35.1V115.2H31.6ZM30.9 109.3H35.8M32.6 108.5H34.1" stroke="#b4b4b4"/><path d="M45.4 108.6H49.4L50.8 110V115.2H45.4ZM49.2 108.6V110.2H50.8" stroke="#a0a0a0"/><path d="M46.6 112H49.6" stroke="#a0a0a0"/><rect x="58.4" y="108.3" width="7.9" height="7" stroke="#7c7c7c"/><path d="M59.6 110.2h.9M61.4 110.2h3.8M59.6 111.9h.9M61.4 111.9h3.8M59.6 113.6h.9M61.4 113.6h3.8" stroke="#7c7c7c"/></g><rect x="425.3" y="146.4" width="11.4" height="11.2" fill="#fdfdfd" stroke="#cfcfcf" stroke-width=".6"/><path d="M428.4 148.6v3.6M433.4 148.6v3.6M430.9 148.8v2.2" stroke="#d2d2d2" stroke-width=".8"/><path d="M427.6 150.4l.8 1.8l.8-1.8M432.6 150.4l.8 1.8l.8-1.8M428 154.6h1.6M430.4 154.6h1.2M432.6 154.6h1.6" stroke="#d0d0d0" stroke-width=".6" fill="none"/></svg>
</div></body></html>
